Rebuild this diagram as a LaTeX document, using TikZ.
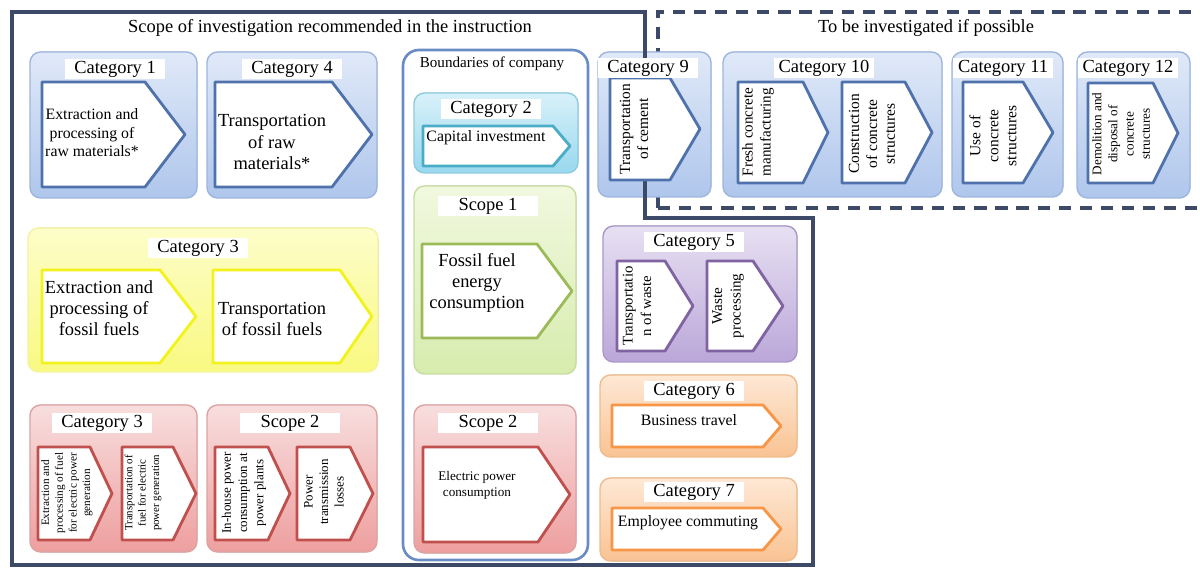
\documentclass[tikz,border=0pt]{standalone}
\usepackage{fontspec}
\setmainfont{Liberation Serif}
\definecolor{scopeline}{HTML}{3C4A68}
\definecolor{compline}{HTML}{6A8CC4}
\definecolor{bluetop}{HTML}{E0E9F8}\definecolor{bluebot}{HTML}{AFC6EC}\definecolor{bluebd}{HTML}{9DB5DF}\definecolor{bluearr}{HTML}{4F72AC}
\definecolor{yeltop}{HTML}{FDFDCA}\definecolor{yelbot}{HTML}{F9F982}\definecolor{yelbd}{HTML}{F3F3A0}\definecolor{yelarr}{HTML}{F2F21C}
\definecolor{redtop}{HTML}{F8DEDE}\definecolor{redbot}{HTML}{EE9F9F}\definecolor{redbd}{HTML}{DCA3A3}\definecolor{redarr}{HTML}{C0504D}
\definecolor{cyantop}{HTML}{D8F1F9}\definecolor{cyanbot}{HTML}{98D8EE}\definecolor{cyanbd}{HTML}{8ECADF}\definecolor{cyanarr}{HTML}{4BACC6}
\definecolor{grntop}{HTML}{F1F8DF}\definecolor{grnbot}{HTML}{D7ECAE}\definecolor{grnbd}{HTML}{C6DD9E}\definecolor{grnarr}{HTML}{9BBB59}
\definecolor{purtop}{HTML}{E7E0F2}\definecolor{purbot}{HTML}{BBA7D9}\definecolor{purbd}{HTML}{A997C9}\definecolor{purarr}{HTML}{8064A2}
\definecolor{orgtop}{HTML}{FEE8D5}\definecolor{orgbot}{HTML}{F9C393}\definecolor{orgbd}{HTML}{EFBB8C}\definecolor{orgarr}{HTML}{F79646}
\newcommand{\homeplate}[6]{\draw[#1] (#2,#3) -- (#4,#3) -- (#5,{(#3+#6)/2}) -- (#4,#6) -- (#2,#6) -- cycle;}
\begin{document}
\begin{tikzpicture}[x=0.02cm,y=-0.02cm,
  grp/.style={rounded corners=6pt,line width=0.8pt},
  bluegrp/.style={grp,draw=bluebd,top color=bluetop,bottom color=bluebot},
  yelgrp/.style={grp,draw=yelbd,top color=yeltop,bottom color=yelbot},
  redgrp/.style={grp,draw=redbd,top color=redtop,bottom color=redbot},
  cyangrp/.style={grp,draw=cyanbd,top color=cyantop,bottom color=cyanbot},
  grngrp/.style={grp,draw=grnbd,top color=grntop,bottom color=grnbot},
  purgrp/.style={grp,draw=purbd,top color=purtop,bottom color=purbot},
  orggrp/.style={grp,draw=orgbd,top color=orgtop,bottom color=orgbot},
  plate/.style={fill=white,line width=1.6pt,line join=round},
  catlbl/.style={fill=white,minimum width=2cm,minimum height=0.4cm,inner sep=1pt,font=\fontsize{10.5}{12}\selectfont},
  txt/.style={align=center,inner sep=0pt},
  vtxt/.style={txt,rotate=90}]
\useasboundingbox[fill=white] (0,0) rectangle (1200,570);
\node[font=\fontsize{10.5}{12}\selectfont] (ttlscope) at (330,28) {Scope of investigation recommended in the instruction};
\node[font=\fontsize{10.5}{12}\selectfont] (ttlposs) at (926,28) {To be investigated if possible};
\draw[scopeline,line width=2pt,dash pattern=on 7pt off 5pt] (658,208) -- (658,12) -- (1200,12);
\draw[scopeline,line width=2pt,dash pattern=on 7pt off 5pt] (658,208) -- (1200,208);
\draw[compline,line width=1.5pt,rounded corners=9pt,fill=white] (403,50) rectangle (588,560);
\node[font=\fontsize{8.6}{10}\selectfont] (bound) at (492,64) {Boundaries of company};
\fill[bluegrp] (30,52) rectangle (197,198);
\fill[bluegrp] (207,52) rectangle (377,198);
\fill[yelgrp] (28,228) rectangle (378,372);
\fill[redgrp] (30,405) rectangle (197,552);
\fill[redgrp] (207,405) rectangle (377,552);
\fill[cyangrp] (414,93) rectangle (578,173);
\fill[grngrp] (414,186) rectangle (576,374);
\fill[redgrp] (414,405) rectangle (576,553);
\fill[bluegrp] (598,52) rectangle (711,197);
\fill[bluegrp] (723,52) rectangle (942,197);
\fill[bluegrp] (952,52) rectangle (1063,197);
\fill[bluegrp] (1077,52) rectangle (1190,198);
\fill[purgrp] (603,226) rectangle (797,362);
\fill[orggrp] (600,375) rectangle (797,457);
\fill[orggrp] (600,478) rectangle (797,561);
\draw[scopeline,line width=1.8pt] (12,12) -- (645,12) -- (645,218) -- (813,218) -- (813,565) -- (12,565) -- cycle;
\homeplate{plate,draw=bluearr}{42}{82}{145}{185}{187}
\homeplate{plate,draw=bluearr}{215}{82}{332}{372}{187}
\homeplate{plate,draw=yelarr}{42}{270}{160}{196}{363}
\homeplate{plate,draw=yelarr}{213}{270}{340}{372}{363}
\homeplate{plate,draw=redarr}{38}{447}{90}{112}{540}
\homeplate{plate,draw=redarr}{122}{447}{173}{196}{540}
\homeplate{plate,draw=redarr}{215}{447}{268}{290}{540}
\homeplate{plate,draw=redarr}{297}{447}{350}{373}{540}
\homeplate{plate,draw=cyanarr}{423}{126}{553}{570}{166}
\homeplate{plate,draw=grnarr}{422}{244}{537}{572}{338}
\homeplate{plate,draw=redarr}{423}{447}{538}{570}{542}
\homeplate{plate,draw=bluearr}{610}{78}{670}{700}{180}
\homeplate{plate,draw=bluearr}{738}{82}{803}{828}{183}
\homeplate{plate,draw=bluearr}{842}{82}{905}{932}{183}
\homeplate{plate,draw=bluearr}{963}{82}{1023}{1053}{183}
\homeplate{plate,draw=bluearr}{1088}{83}{1153}{1178}{183}
\homeplate{plate,draw=purarr}{617}{261}{665}{693}{351}
\homeplate{plate,draw=purarr}{707}{261}{753}{783}{351}
\homeplate{plate,draw=orgarr}{612}{405}{763}{781}{447}
\homeplate{plate,draw=orgarr}{612}{508}{763}{781}{550}
\node[catlbl] (cat1) at (115,69) {Category 1};
\node[catlbl] (cat4) at (292,69) {Category 4};
\node[catlbl] (cat3y) at (198,248) {Category 3};
\node[catlbl] (cat3r) at (102,423) {Category 3};
\node[catlbl] (scp2l) at (290,423) {Scope 2};
\node[catlbl] (cat2) at (491,109) {Category 2};
\node[catlbl] (scp1) at (488,206) {Scope 1};
\node[catlbl] (scp2m) at (488,423) {Scope 2};
\node[catlbl] (cat9) at (648,68) {Category 9};
\node[catlbl] (cat10) at (824,68) {Category 10};
\node[catlbl] (cat11) at (1003,68) {Category 11};
\node[catlbl] (cat12) at (1128,68) {Category 12};
\node[catlbl] (cat5) at (694,242) {Category 5};
\node[catlbl] (cat6) at (694,391) {Category 6};
\node[catlbl] (cat7) at (694,492) {Category 7};
\node[txt,font=\fontsize{9}{10.5}\selectfont] (rawext) at (92,133) {Extraction and\\processing of\\raw materials*};
\node[txt,font=\fontsize{10.5}{12}\selectfont] (rawtr) at (272,142) {Transportation\\of raw\\materials*};
\node[txt,font=\fontsize{10.5}{12}\selectfont] (fosext) at (99,308) {Extraction and\\processing of\\fossil fuels};
\node[txt,font=\fontsize{10.5}{12}\selectfont] (fostr) at (272,319) {Transportation\\of fossil fuels};
\node[vtxt,font=\fontsize{6.4}{7.8}\selectfont] (elext) at (67,493) {Extraction and\\processing of fuel\\for electric power\\generation};
\node[vtxt,font=\fontsize{6.2}{7.6}\selectfont] (eltr) at (143,493) {Transportation of\\fuel for electric\\power generation};
\node[vtxt,font=\fontsize{7.4}{9.2}\selectfont] (inhouse) at (244,493) {In-house power\\consumption at\\power plants};
\node[vtxt,font=\fontsize{7.4}{8.8}\selectfont] (loss) at (324,492) {Power\\transmission\\losses};
\node[txt,font=\fontsize{9}{10.5}\selectfont] (capinv) at (486,138) {Capital investment};
\node[txt,font=\fontsize{10.5}{12}\selectfont] (fosen) at (477,283) {Fossil fuel\\energy\\consumption};
\node[txt,font=\fontsize{7.5}{9}\selectfont] (elpow) at (477,485) {Electric power\\consumption};
\node[vtxt,font=\fontsize{8.8}{10.2}\selectfont] (cemtr) at (634,129) {Transportation\\of cement};
\node[vtxt,font=\fontsize{8.6}{10.2}\selectfont] (fresh) at (758,132) {Fresh concrete\\manufacturing};
\node[vtxt,font=\fontsize{8.8}{10.2}\selectfont] (constr) at (872,134) {Construction\\of concrete\\structures};
\node[vtxt,font=\fontsize{8.8}{10.2}\selectfont] (use) at (993,136) {Use of\\concrete\\structures};
\node[vtxt,font=\fontsize{7.5}{9.2}\selectfont] (demol) at (1121,134) {Demolition and\\disposal of\\concrete\\structures};
\node[vtxt,font=\fontsize{8.4}{10.5}\selectfont] (wastr) at (637,306) {Transportatio\\n of waste};
\node[vtxt,font=\fontsize{8.6}{10.5}\selectfont] (wasproc) at (728,306) {Waste\\processing};
\node[txt,font=\fontsize{9}{10.5}\selectfont] (travel) at (689,420) {Business travel};
\node[txt,font=\fontsize{9}{10.5}\selectfont] (commute) at (688,523) {Employee commuting};
\end{tikzpicture}
\end{document}
